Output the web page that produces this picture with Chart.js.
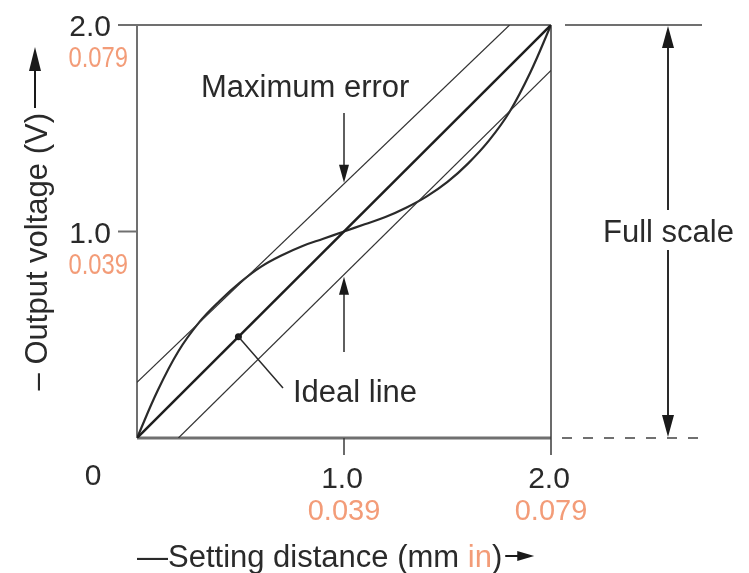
<!DOCTYPE html>
<html>
<head>
<meta charset="utf-8">
<title>Linearity</title>
<script src="https://cdn.jsdelivr.net/npm/chart.js@4.4.1/dist/chart.umd.min.js"></script>
<style>
	body { margin: 0; background: #fff; }
	canvas { display: block; }
</style>
</head>
<body>
<canvas id="mycanvas" width="749" height="573"></canvas>
<script>
// setting distance (mm) vs output voltage (V)
var distance = [0, 0.1, 0.2, 0.3, 0.4, 0.5, 0.6, 0.7, 0.8, 0.9, 1.0, 1.1, 1.2, 1.3, 1.4, 1.5, 1.6, 1.7, 1.8, 1.9, 2.0];
var outputVoltage = [0, 0.23, 0.42, 0.56, 0.665, 0.755, 0.83, 0.885, 0.93, 0.965, 1.0, 1.035, 1.07, 1.115, 1.17, 1.24, 1.33, 1.44, 1.58, 1.77, 2.0];

var idealX = [0, 2.0];
var idealY = [0, 2.0];
var upperX = [0, 1.8];
var upperY = [0.27, 2.0];
var lowerX = [0.2, 2.0];
var lowerY = [0, 1.78];

var tickValues = [1.0, 2.0];
var mmLabels = ['1.0', '2.0'];
var inchLabels = ['0.039', '0.079'];

var BLACK = '#2a2a2a';
var ORANGE = '#f39c78';
var FONT = 'Liberation Sans, Arial, sans-serif';

function pts(xs, ys) {
	var out = [];
	for (var i in xs) {
		out.push({x: xs[i], y: ys[i]});
	}
	return out;
}

function lineAt(xs, ys, x) {
	return ys[0] + (ys[1] - ys[0]) * (x - xs[0]) / (xs[1] - xs[0]);
}

function arrow(ctx, x1, y1, x2, y2, len, half) {
	var dx = x2 - x1, dy = y2 - y1;
	var d = Math.sqrt(dx * dx + dy * dy);
	var ux = dx / d, uy = dy / d;
	ctx.beginPath();
	ctx.moveTo(x1, y1);
	ctx.lineTo(x2 - ux * len * 0.5, y2 - uy * len * 0.5);
	ctx.stroke();
	ctx.beginPath();
	ctx.moveTo(x2, y2);
	ctx.lineTo(x2 - ux * len - uy * half, y2 - uy * len + ux * half);
	ctx.lineTo(x2 - ux * len + uy * half, y2 - uy * len - ux * half);
	ctx.closePath();
	ctx.fill();
}

function line(ctx, x1, y1, x2, y2) {
	ctx.beginPath();
	ctx.moveTo(x1, y1);
	ctx.lineTo(x2, y2);
	ctx.stroke();
}

function condensed(ctx, text, x, y, sx) {
	ctx.save();
	ctx.translate(x, y);
	ctx.scale(sx, 1);
	ctx.fillText(text, 0, 0);
	ctx.restore();
}

var drawExtras = {
	id: 'drawExtras',
	beforeDatasetsDraw: function(chart) {
		var ctx = chart.ctx;
		var xs = chart.scales.x, ys = chart.scales.y;
		var left = xs.getPixelForValue(0), right = xs.getPixelForValue(2);
		var top = ys.getPixelForValue(2), bottom = ys.getPixelForValue(0);
		ctx.save();
		ctx.lineCap = 'butt';
		// frame
		ctx.strokeStyle = '#707070';
		ctx.lineWidth = 2;
		line(ctx, left, top - 1, left, bottom);
		line(ctx, left - 19, top, right, top);
		line(ctx, left - 19, ys.getPixelForValue(1), left, ys.getPixelForValue(1));
		ctx.lineWidth = 3;
		line(ctx, left, bottom, right, bottom);
		ctx.strokeStyle = '#3a3a3a';
		ctx.lineWidth = 1.5;
		line(ctx, right, top, right, bottom + 17);
		line(ctx, xs.getPixelForValue(1), bottom, xs.getPixelForValue(1), bottom + 17);
		ctx.restore();
	},
	afterDatasetsDraw: function(chart) {
		var ctx = chart.ctx;
		var xs = chart.scales.x, ys = chart.scales.y;
		var left = xs.getPixelForValue(0), right = xs.getPixelForValue(2);
		var top = ys.getPixelForValue(2), bottom = ys.getPixelForValue(0);
		var xm = xs.getPixelForValue(1);
		ctx.save();

		// full scale marker on the right
		ctx.strokeStyle = '#707070';
		ctx.lineWidth = 2;
		line(ctx, right + 14, top, right + 151, top);
		ctx.setLineDash([10, 11]);
		line(ctx, right + 11, bottom, right + 151, bottom);
		ctx.setLineDash([]);
		ctx.strokeStyle = '#2a2a2a';
		ctx.fillStyle = '#1a1a1a';
		ctx.lineWidth = 2;
		arrow(ctx, 668, 210, 668, top + 1, 22, 6);
		arrow(ctx, 668, 250, 668, bottom - 1, 22, 6);

		// maximum error arrows
		ctx.lineWidth = 1.5;
		arrow(ctx, xm, 113, xm, ys.getPixelForValue(lineAt(upperX, upperY, 1)) - 1, 18, 5);
		arrow(ctx, xm, 352, xm, ys.getPixelForValue(lineAt(lowerX, lowerY, 1)) + 2, 18, 5);

		// ideal line pointer
		var px = xs.getPixelForValue(0.49), py = ys.getPixelForValue(0.49);
		ctx.beginPath();
		ctx.arc(px, py, 3.5, 0, Math.PI * 2);
		ctx.fill();
		line(ctx, px, py, 283, 388);

		// texts
		ctx.fillStyle = BLACK;
		ctx.font = '31px ' + FONT;
		ctx.textAlign = 'left';
		ctx.textBaseline = 'alphabetic';
		ctx.fillText('Maximum error', 201, 97);
		ctx.fillText('Full scale', 603, 242);
		ctx.fillText('Ideal line', 293, 402);

		// y tick labels
		ctx.textAlign = 'right';
		for (var i in tickValues) {
			var yp = ys.getPixelForValue(tickValues[i]);
			ctx.fillStyle = BLACK;
			ctx.font = '30px ' + FONT;
			ctx.fillText(mmLabels[i], 111, yp + 11);
			ctx.fillStyle = ORANGE;
			ctx.font = '29px ' + FONT;
			condensed(ctx, inchLabels[i], 128, yp + 42, 0.82);
		}

		// x tick labels
		ctx.textAlign = 'center';
		ctx.fillStyle = BLACK;
		ctx.font = '30px ' + FONT;
		ctx.fillText('0', left - 44, 485);
		for (var j in tickValues) {
			var xp = xs.getPixelForValue(tickValues[j]);
			ctx.fillStyle = BLACK;
			ctx.font = '30px ' + FONT;
			ctx.fillText(mmLabels[j], xp - 2, 488);
			ctx.fillStyle = ORANGE;
			ctx.font = '29px ' + FONT;
			ctx.fillText(inchLabels[j], xp, 520);
		}

		// x axis title
		ctx.font = '31px ' + FONT;
		ctx.textAlign = 'left';
		var tx = left;
		var parts = [['\u2014Setting distance (mm ', BLACK], ['in', ORANGE], [')', BLACK]];
		for (var k in parts) {
			ctx.fillStyle = parts[k][1];
			ctx.fillText(parts[k][0], tx, 567);
			tx += ctx.measureText(parts[k][0]).width;
		}
		ctx.strokeStyle = '#1a1a1a';
		ctx.fillStyle = '#1a1a1a';
		ctx.lineWidth = 2;
		arrow(ctx, tx + 3, 556, tx + 32, 556, 17, 5);

		// y axis title
		ctx.save();
		ctx.translate(47, 113);
		ctx.rotate(-Math.PI / 2);
		ctx.fillStyle = BLACK;
		ctx.textAlign = 'right';
		ctx.fillText('\u2013 Output voltage (V)', 0, 0);
		ctx.restore();
		arrow(ctx, 35, 108, 35, 47, 24, 6);

		ctx.restore();
	}
};

var chartdata = {
	datasets: [
		{
			label: 'upper limit',
			data: pts(upperX, upperY),
			borderColor: '#333',
			borderWidth: 1.2
		},
		{
			label: 'lower limit',
			data: pts(lowerX, lowerY),
			borderColor: '#333',
			borderWidth: 1.2
		},
		{
			label: 'ideal line',
			data: pts(idealX, idealY),
			borderColor: '#1e1e1e',
			borderWidth: 2.5
		},
		{
			label: 'output',
			data: pts(distance, outputVoltage),
			borderColor: '#2a2a2a',
			borderWidth: 2.2,
			tension: 0.4
		}
	]
};

var ctx = document.getElementById('mycanvas');

var chart = new Chart(ctx, {
	type: 'scatter',
	data: chartdata,
	options: {
		responsive: false,
		animation: false,
		showLine: true,
		elements: { point: { radius: 0, hoverRadius: 0 } },
		layout: { padding: { left: 137, right: 198, top: 25, bottom: 135 } },
		plugins: { legend: { display: false }, tooltip: { enabled: false } },
		scales: {
			x: { type: 'linear', min: 0, max: 2, display: false },
			y: { type: 'linear', min: 0, max: 2, display: false }
		}
	},
	plugins: [drawExtras]
});
</script>
</body>
</html>
